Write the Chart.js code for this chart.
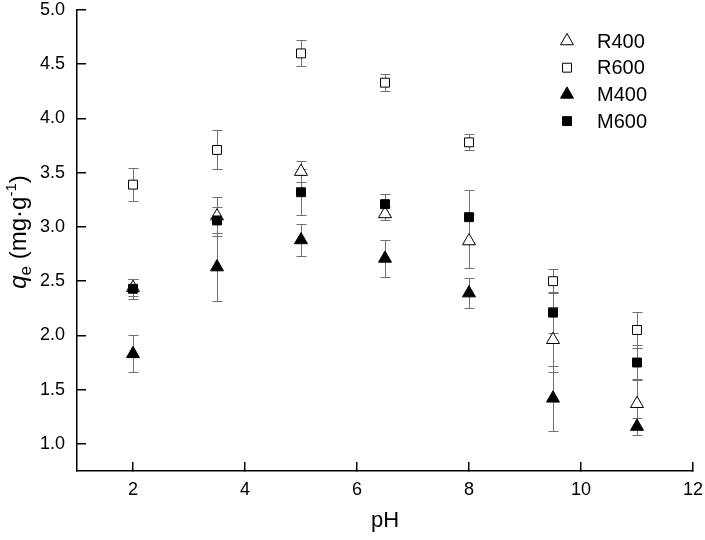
<!DOCTYPE html>
<html>
<head>
<meta charset="utf-8">
<style>
  html, body { margin: 0; padding: 0; background: #fff; }
</style>
<script src="https://cdn.jsdelivr.net/npm/chart.js@4.4.1/dist/chart.umd.min.js"></script>
</head>
<body>
<canvas id="grafPh" width="705" height="540"></canvas>
<script>
// dados
const phValues = [2, 3.5, 5, 6.5, 8, 9.5, 11];
const seriesNames = ['R400', 'R600', 'M400', 'M600'];

const r400 = [2.44, 3.10, 3.51, 3.12, 2.87, 1.96, 1.37];
const r400Err = [0.08, 0.18, 0.10, 0.06, 0.25, 0.30, 0.23];
const r600 = [3.39, 3.71, 4.60, 4.33, 3.78, 2.50, 2.05];
const r600Err = [0.15, 0.18, 0.12, 0.08, 0.075, 0.11, 0.17];
const m400 = [1.83, 2.63, 2.88, 2.71, 2.39, 1.42, 1.16];
const m400Err = [0.17, 0.31, 0.15, 0.17, 0.135, 0.30, 0.08];
const m600 = [2.43, 3.06, 3.32, 3.21, 3.09, 2.21, 1.75];
const m600Err = [0.09, 0.12, 0.21, 0.09, 0.25, 0.19, 0.16];

const xTicks = [2, 4, 6, 8, 10, 12];
const yTicks = [1.0, 1.5, 2.0, 2.5, 3.0, 3.5, 4.0, 4.5, 5.0];

const FONTE = "'Liberation Sans', Arial, sans-serif";

function pontos(vals) {
  return vals.map((v, i) => ({ x: phValues[i], y: v }));
}

// barras de erro
const errorBars = {
  id: 'errorBars',
  beforeDatasetsDraw(chart) {
    const { ctx, scales: { x, y } } = chart;
    ctx.save();
    ctx.strokeStyle = '#707070';
    ctx.lineWidth = 1;
    chart.data.datasets.forEach((ds) => {
      ds.data.forEach((p, j) => {
        const e = ds.erro[j];
        const px = Math.round(x.getPixelForValue(p.x)) + 0.5;
        const top = Math.round(y.getPixelForValue(p.y + e)) + 0.5;
        const bot = Math.round(y.getPixelForValue(p.y - e)) + 0.5;
        ctx.beginPath();
        ctx.moveTo(px, top); ctx.lineTo(px, bot);
        ctx.moveTo(px - 5, top); ctx.lineTo(px + 5, top);
        ctx.moveTo(px - 5, bot); ctx.lineTo(px + 5, bot);
        ctx.stroke();
      });
    });
    ctx.restore();
  }
};

// legenda no canto superior direito
const legenda = {
  id: 'legenda',
  afterDraw(chart) {
    const ctx = chart.ctx;
    ctx.save();
    chart.data.datasets.forEach((ds, i) => {
      const yy = 41 + i * 26.7;
      ctx.fillStyle = ds.backgroundColor;
      ctx.strokeStyle = ds.borderColor;
      ctx.lineWidth = 1;
      Chart.helpers.drawPoint(ctx, {
        pointStyle: ds.pointStyle, radius: ds.pointRadius, rotation: 0, borderWidth: 1
      }, 567, yy);
      ctx.fillStyle = '#000';
      ctx.font = '20px ' + FONTE;
      ctx.textBaseline = 'middle';
      ctx.textAlign = 'left';
      ctx.fillText(ds.label, 597, yy + 1);
    });
    ctx.restore();
  }
};

// titulo do eixo y: q_e (mg·g^-1)
const tituloY = {
  id: 'tituloY',
  afterDraw(chart) {
    const ctx = chart.ctx;
    const partes = [
      { t: 'q', f: 'italic 24px ' + FONTE, dy: 0 },
      { t: 'e', f: '17px ' + FONTE, dy: 5 },
      { t: ' (mg\u00B7g', f: '24px ' + FONTE, dy: 0 },
      { t: '-1', f: '15px ' + FONTE, dy: -10 },
      { t: ')', f: '24px ' + FONTE, dy: 0 }
    ];
    ctx.save();
    let total = 0;
    partes.forEach(p => { ctx.font = p.f; p.w = ctx.measureText(p.t).width; total += p.w; });
    ctx.translate(26, 232);
    ctx.rotate(-Math.PI / 2);
    ctx.fillStyle = '#000';
    ctx.textBaseline = 'alphabetic';
    ctx.textAlign = 'left';
    let cx = -total / 2;
    partes.forEach(p => {
      ctx.font = p.f;
      ctx.fillText(p.t, cx, p.dy);
      cx += p.w;
    });
    ctx.restore();
  }
};

const ctx = document.getElementById('grafPh').getContext('2d');

const grafico = new Chart(ctx, {
  type: 'scatter',
  data: {
    datasets: [
      { label: seriesNames[0], data: pontos(r400), erro: r400Err, order: 4,
        pointStyle: 'triangle', pointRadius: 7.5, backgroundColor: '#ffffff', borderColor: '#000000' },
      { label: seriesNames[1], data: pontos(r600), erro: r600Err, order: 3,
        pointStyle: 'rect', pointRadius: 6.3, backgroundColor: '#ffffff', borderColor: '#000000' },
      { label: seriesNames[2], data: pontos(m400), erro: m400Err, order: 2,
        pointStyle: 'triangle', pointRadius: 7.5, backgroundColor: '#000000', borderColor: '#000000' },
      { label: seriesNames[3], data: pontos(m600), erro: m600Err, order: 1,
        pointStyle: 'rect', pointRadius: 6.3, backgroundColor: '#000000', borderColor: '#000000' }
    ]
  },
  options: {
    responsive: false,
    animation: false,
    layout: { padding: { top: 10, right: 12, left: 0, bottom: 0 } },
    elements: { point: { borderWidth: 1, hoverRadius: 7.5 } },
    plugins: {
      legend: { display: false },
      tooltip: { enabled: false }
    },
    scales: {
      x: {
        type: 'linear',
        min: 1,
        max: 12,
        afterBuildTicks: (s) => { s.ticks = xTicks.map(v => ({ value: v })); },
        afterFit: (s) => { s.height = 69; s.paddingLeft = 0; s.paddingRight = 0; },
        border: { color: '#000', width: 1.5 },
        grid: { drawOnChartArea: false, drawTicks: true, tickLength: -9, color: '#000', lineWidth: 1.5 },
        ticks: { color: '#000', font: { family: FONTE, size: 18 }, padding: 17, maxRotation: 0 },
        title: { display: true, text: 'pH', color: '#000', font: { family: FONTE, size: 22 }, padding: { top: 0, bottom: 6 } }
      },
      y: {
        type: 'linear',
        min: 0.75,
        max: 5.0,
        afterBuildTicks: (s) => { s.ticks = yTicks.map(v => ({ value: v })); },
        afterFit: (s) => { s.width = 77; s.paddingTop = 0; s.paddingBottom = 0; },
        border: { color: '#000', width: 1.5 },
        grid: { drawOnChartArea: false, drawTicks: true, tickLength: -9, color: '#000', lineWidth: 1.5 },
        ticks: { color: '#000', font: { family: FONTE, size: 18 }, padding: 21,
                 callback: (v) => Number(v).toFixed(1) },
        title: { display: false }
      }
    }
  },
  plugins: [errorBars, legenda, tituloY]
});
</script>
</body>
</html>
